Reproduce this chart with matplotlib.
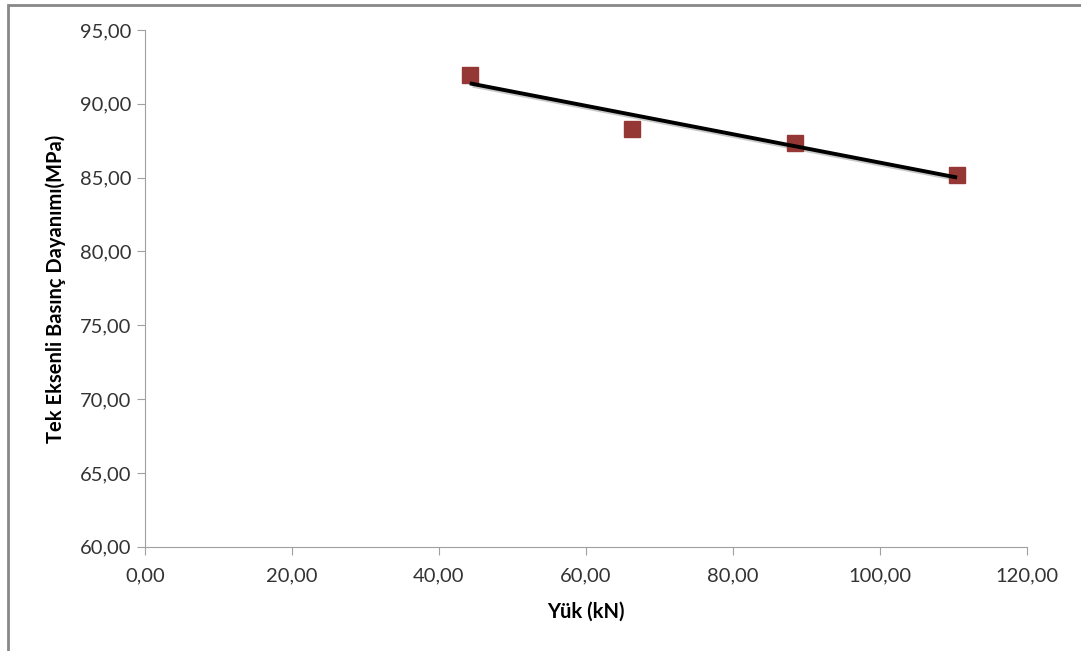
import numpy as np
import matplotlib.pyplot as plt
from matplotlib.ticker import FuncFormatter, MultipleLocator
from matplotlib.patches import Rectangle

load_kn = [44.2, 66.3, 88.4, 110.5]
strength_mpa = [91.95, 88.30, 87.35, 85.18]

plt.rcParams['font.family'] = ['Lato', 'DejaVu Sans']

fig = plt.figure(figsize=(10.81, 6.51), dpi=100)
ax = fig.add_axes([0.134, 0.160, 0.816, 0.794])

# linear trendline, as in the excel chart
k, b = np.polyfit(load_kn, strength_mpa, 1)
xs = np.array([min(load_kn), max(load_kn)])
ax.plot(xs + 0.4, k * xs + b - 0.14, color='#c8c8c8', lw=3.2, zorder=2, solid_capstyle='butt')
ax.plot(xs, k * xs + b, color='black', lw=2.8, zorder=3, solid_capstyle='butt')
ax.plot(load_kn, strength_mpa, 's', color='#953735', ms=12, mec='#953735', zorder=2.5)

ax.set_xlim(0, 120)
ax.set_ylim(60, 95)
ax.xaxis.set_major_locator(MultipleLocator(20))
ax.yaxis.set_major_locator(MultipleLocator(5))
fmt = FuncFormatter(lambda v, p: f"{v:.2f}".replace('.', ','))
ax.xaxis.set_major_formatter(fmt)
ax.yaxis.set_major_formatter(fmt)

for s in ['top', 'right']:
    ax.spines[s].set_visible(False)
for s in ['left', 'bottom']:
    ax.spines[s].set_color('#a0a0a0')
ax.tick_params(colors='#a0a0a0', labelcolor='#333333', labelsize=14.5, length=6, direction='out')
ax.tick_params(axis='x', pad=9)

ax.set_xlabel('Yük (kN)', fontsize=14.5, fontweight='bold', labelpad=12)
ax.set_ylabel('Tek Eksenli Basınç Dayanımı(MPa)', fontsize=14.5, fontweight='bold', labelpad=10)

fig.patches.append(Rectangle((0.007, -0.05), 1.1, 1.043, transform=fig.transFigure,
                             fill=False, edgecolor='#888888', lw=2))

fig.savefig('out.png', dpi=100)
